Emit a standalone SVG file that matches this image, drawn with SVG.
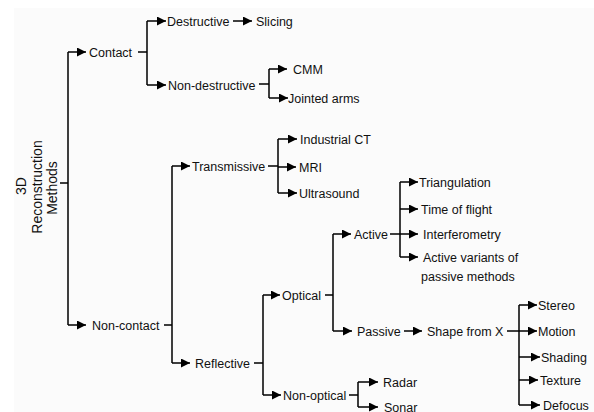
<svg xmlns="http://www.w3.org/2000/svg" width="594" height="412" viewBox="0 0 594 412">
<defs>
<style>
.t{font-family:"Liberation Sans",Arial,sans-serif;font-size:12.5px;fill:#111;}
.r{font-family:"Liberation Sans",Arial,sans-serif;font-size:14px;fill:#111;text-anchor:middle;}
.c{fill:none;stroke:#000;stroke-width:1.5;}
.a{marker-end:url(#ah);}
</style>
<marker id="ah" markerUnits="userSpaceOnUse" markerWidth="10" markerHeight="10" refX="9" refY="4.5" orient="auto">
<path d="M0,0 L9,4.5 L0,9 z" fill="#000"/>
</marker>
</defs>
<rect x="0" y="0" width="594" height="412" fill="#fff"/>
<rect x="14" y="8" width="580" height="404" fill="#fbfbfb"/>
<g id="connectors">
<path class="c" d="M60,183 H68 M68,52 V325"/>
<path class="c a" d="M68,52 H86"/>
<path class="c a" d="M68,325 H86"/>
<path class="c" d="M138,52 H147 M147,21 V85"/>
<path class="c a" d="M147,21 H166"/>
<path class="c a" d="M147,85 H166"/>
<path class="c a" d="M233,21 H252"/>
<path class="c" d="M259,84 H269 M269,69 V98"/>
<path class="c a" d="M269,69 H287"/>
<path class="c a" d="M269,98 H288"/>
<path class="c" d="M164,325 H172 M172,166 V363"/>
<path class="c a" d="M172,166 H190"/>
<path class="c a" d="M172,363 H190"/>
<path class="c" d="M268,166 H278 M278,139 V193"/>
<path class="c a" d="M278,139 H297"/>
<path class="c a" d="M278,167 H296"/>
<path class="c a" d="M278,193 H297"/>
<path class="c" d="M254,363 H263 M263,295 V395"/>
<path class="c a" d="M263,295 H280"/>
<path class="c a" d="M263,395 H281"/>
<path class="c" d="M325,295 H333 M333,234 V331"/>
<path class="c a" d="M333,234 H351"/>
<path class="c a" d="M333,331 H352"/>
<path class="c" d="M390,234 H400 M400,182 V257"/>
<path class="c a" d="M400,182 H418"/>
<path class="c a" d="M400,209 H418"/>
<path class="c a" d="M400,234 H418"/>
<path class="c a" d="M400,257 H418"/>
<path class="c a" d="M404,331 H422"/>
<path class="c" d="M507,331 H519 M519,305 V405"/>
<path class="c a" d="M519,305 H537"/>
<path class="c a" d="M519,331 H537"/>
<path class="c a" d="M519,357 H540"/>
<path class="c a" d="M519,380 H538"/>
<path class="c a" d="M519,405 H540"/>
<path class="c" d="M349,395 H358 M358,382 V407"/>
<path class="c a" d="M358,382 H378"/>
<path class="c a" d="M358,407 H378"/>
</g>
<g id="root">
<text class="r" transform="translate(26,186) rotate(-90)">3D</text>
<text class="r" transform="translate(42,187) rotate(-90)">Reconstruction</text>
<text class="r" transform="translate(57,188) rotate(-90)">Methods</text>
</g>
<g id="contact"><text class="t" x="89" y="56.5">Contact</text></g>
<g id="destructive"><text class="t" x="167" y="25.5">Destructive</text></g>
<g id="slicing"><text class="t" x="256" y="25.5">Slicing</text></g>
<g id="non-destructive"><text class="t" x="168" y="89.5">Non-destructive</text></g>
<g id="cmm"><text class="t" x="293" y="73.5">CMM</text></g>
<g id="jointed-arms"><text class="t" x="288" y="102.5">Jointed arms</text></g>
<g id="non-contact"><text class="t" x="92" y="329.5">Non-contact</text></g>
<g id="transmissive"><text class="t" x="192" y="170.5">Transmissive</text></g>
<g id="industrial-ct"><text class="t" x="300" y="143.5">Industrial CT</text></g>
<g id="mri"><text class="t" x="299" y="171.5">MRI</text></g>
<g id="ultrasound"><text class="t" x="299" y="197.5">Ultrasound</text></g>
<g id="reflective"><text class="t" x="195" y="367.5">Reflective</text></g>
<g id="optical"><text class="t" x="282" y="299.5">Optical</text></g>
<g id="active"><text class="t" x="354" y="238.5">Active</text></g>
<g id="triangulation"><text class="t" x="419" y="186.5">Triangulation</text></g>
<g id="time-of-flight"><text class="t" x="421" y="213.5">Time of flight</text></g>
<g id="interferometry"><text class="t" x="423" y="238.5">Interferometry</text></g>
<g id="active-variants"><text class="t" x="423" y="261.5">Active variants of</text><text class="t" x="421" y="280.5">passive methods</text></g>
<g id="passive"><text class="t" x="357" y="335.5">Passive</text></g>
<g id="shape-from-x"><text class="t" x="427" y="335.5">Shape from X</text></g>
<g id="stereo"><text class="t" x="538" y="309.5">Stereo</text></g>
<g id="motion"><text class="t" x="538" y="335.5">Motion</text></g>
<g id="shading"><text class="t" x="541" y="361.5">Shading</text></g>
<g id="texture"><text class="t" x="540" y="384.5">Texture</text></g>
<g id="defocus"><text class="t" x="543" y="409.5">Defocus</text></g>
<g id="non-optical"><text class="t" x="283" y="399.5">Non-optical</text></g>
<g id="radar"><text class="t" x="383" y="386.5">Radar</text></g>
<g id="sonar"><text class="t" x="384" y="411.5">Sonar</text></g>
</svg>
